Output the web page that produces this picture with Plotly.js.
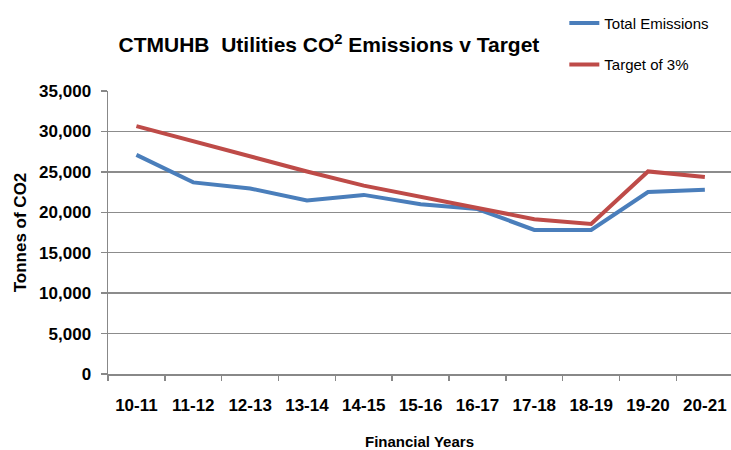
<!DOCTYPE html>
<html>
<head>
<meta charset="utf-8">
<script src="https://cdn.plot.ly/plotly-3.0.1.min.js"></script>
<style>html,body{margin:0;padding:0;overflow:hidden;background:#fff;}</style>
</head>
<body>
<div id="chart" style="width:731px;height:450px;"></div>
<script>
const years = ["10-11","11-12","12-13","13-14","14-15","15-16","16-17","17-18","18-19","19-20","20-21"];
const totalEmissions = [27100, 23700, 22950, 21450, 22150, 21000, 20400, 17820, 17820, 22500, 22780];
const target = [30650, 28750, 26850, 25050, 23300, 21950, 20500, 19150, 18550, 25050, 24350];
const yTicks = [0, 5000, 10000, 15000, 20000, 25000, 30000, 35000];
const yTickLabels = ["0", "5,000", "10,000", "15,000", "20,000", "25,000", "30,000", "35,000"];

const FONT = "Liberation Sans, Arial, sans-serif";

const traces = [
  {x: years, y: totalEmissions, type: "scatter", mode: "lines", name: "Total Emissions",
   line: {color: "#4A7EBB", width: 4}, legendgroup: "a"},
  {x: years, y: target, type: "scatter", mode: "lines", name: "Target of 3%",
   line: {color: "#BE4B48", width: 4}, legendgroup: "b"}
];

const layout = {
  width: 731, height: 450,
  margin: {l: 108, r: 0, t: 91, b: 76, autoexpand: false},
  paper_bgcolor: "#fff", plot_bgcolor: "#fff",
  font: {family: FONT, color: "#000"},
  title: {text: "<b>CTMUHB  Utilities CO<sup>2</sup> Emissions v Target</b>", font: {size: 21, family: FONT, color: "#000"},
          xref: "container", x: 0.45, xanchor: "center", yref: "container", y: 0.9, yanchor: "middle"},
  showlegend: true,
  legend: {xref: "container", yref: "container", x: 0.772, y: 0.985, xanchor: "left", yanchor: "top",
           font: {size: 15, family: FONT, color: "#000"}, tracegroupgap: 19, bgcolor: "rgba(0,0,0,0)"},
  xaxis: {
    type: "category", range: [-0.5, 10.46], tickson: "boundaries", tickangle: 0,
    ticks: "outside", ticklen: 5, tickcolor: "#888", tickwidth: 1.5,
    showline: true, linecolor: "#888", linewidth: 1.5, showgrid: false, zeroline: false,
    tickfont: {size: 17, family: FONT, color: "#000", weight: "bold"},
    ticklabelstandoff: 15,
    title: {text: "<b>Financial Years</b>", font: {size: 15, family: FONT, color: "#000"}, standoff: 25}
  },
  yaxis: {
    range: [0, 35000], tickvals: yTicks, ticktext: yTickLabels,
    ticks: "outside", ticklen: 6, tickcolor: "#888", tickwidth: 1.5,
    showline: true, linecolor: "#888", linewidth: 1.5,
    showgrid: true, gridcolor: "#8c8c8c", gridwidth: 1.5, zeroline: false,
    tickfont: {size: 17, family: FONT, color: "#000", weight: "bold"},
    ticklabelstandoff: 6,
    title: {text: "<b>Tonnes of CO2</b>", font: {size: 17, family: FONT, color: "#000"}, standoff: 8}
  }
};

Plotly.newPlot("chart", traces, layout, {displayModeBar: false, staticPlot: true});
</script>
</body>
</html>
